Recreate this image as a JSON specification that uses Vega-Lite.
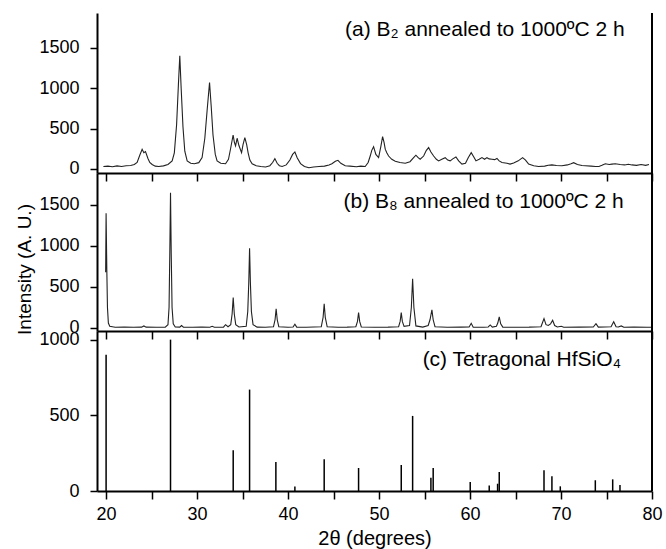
{
  "$schema": "https://vega.github.io/schema/vega-lite/v6.json",
  "padding": {"left": 15, "top": 12, "right": 5, "bottom": 2},
  "spacing": 0,
  "bounds": "flush",
  "config": {
    "font": "Liberation Sans",
    "view": {"stroke": null},
    "axis": {
      "grid": false, "domainColor": "black", "domainWidth": 2,
      "tickColor": "black", "tickWidth": 1.5, "labelColor": "black",
      "labelFontSize": 18, "labelFont": "Liberation Sans", "titleFont": "Liberation Sans",
      "titleFontWeight": "normal", "titleColor": "black", "titleFontSize": 19,
      "labelOverlap": false, "labelFlush": false
    }
  },
  "datasets": {
    "a": [
      {"t":19.7,"i":30},{"t":20.2,"i":35},{"t":20.7,"i":28},{"t":21.2,"i":38},{"t":21.7,"i":30},{"t":22.2,"i":40},{"t":22.7,"i":42},{"t":23.1,"i":55},{"t":23.41,"i":80},{"t":23.7,"i":170},{"t":23.96,"i":244},{"t":24.15,"i":200},{"t":24.33,"i":214},{"t":24.6,"i":130},{"t":24.8,"i":80},{"t":25.06,"i":55},{"t":25.4,"i":35},{"t":25.79,"i":30},{"t":26.3,"i":38},{"t":26.8,"i":55},{"t":27.26,"i":100},{"t":27.5,"i":200},{"t":27.75,"i":550},{"t":27.95,"i":1050},{"t":28.1,"i":1400},{"t":28.25,"i":1000},{"t":28.45,"i":520},{"t":28.65,"i":220},{"t":28.91,"i":100},{"t":29.3,"i":70},{"t":29.7,"i":65},{"t":30.19,"i":78},{"t":30.55,"i":140},{"t":30.85,"i":380},{"t":31.1,"i":720},{"t":31.37,"i":1070},{"t":31.55,"i":780},{"t":31.75,"i":420},{"t":32.0,"i":180},{"t":32.2,"i":100},{"t":32.6,"i":70},{"t":33.13,"i":65},{"t":33.45,"i":120},{"t":33.68,"i":250},{"t":33.96,"i":420},{"t":34.1,"i":330},{"t":34.23,"i":285},{"t":34.4,"i":380},{"t":34.6,"i":290},{"t":34.89,"i":202},{"t":35.05,"i":300},{"t":35.25,"i":388},{"t":35.45,"i":300},{"t":35.61,"i":200},{"t":35.8,"i":110},{"t":36.05,"i":65},{"t":36.5,"i":40},{"t":37.0,"i":30},{"t":37.53,"i":25},{"t":38.0,"i":40},{"t":38.3,"i":80},{"t":38.55,"i":128},{"t":38.8,"i":70},{"t":39.05,"i":40},{"t":39.35,"i":30},{"t":39.8,"i":50},{"t":40.2,"i":110},{"t":40.5,"i":180},{"t":40.75,"i":210},{"t":41.0,"i":140},{"t":41.37,"i":66},{"t":41.8,"i":30},{"t":42.29,"i":15},{"t":42.8,"i":25},{"t":43.4,"i":30},{"t":44.0,"i":35},{"t":44.5,"i":50},{"t":44.82,"i":65},{"t":45.2,"i":95},{"t":45.48,"i":107},{"t":45.8,"i":70},{"t":46.28,"i":40},{"t":46.8,"i":35},{"t":47.5,"i":28},{"t":48.0,"i":35},{"t":48.48,"i":30},{"t":48.8,"i":80},{"t":49.03,"i":160},{"t":49.2,"i":230},{"t":49.4,"i":276},{"t":49.65,"i":180},{"t":49.95,"i":140},{"t":50.2,"i":280},{"t":50.39,"i":400},{"t":50.55,"i":330},{"t":50.68,"i":245},{"t":50.85,"i":200},{"t":51.05,"i":160},{"t":51.4,"i":120},{"t":51.78,"i":95},{"t":52.3,"i":80},{"t":52.88,"i":70},{"t":53.4,"i":90},{"t":53.8,"i":140},{"t":54.05,"i":170},{"t":54.3,"i":140},{"t":54.52,"i":120},{"t":54.9,"i":160},{"t":55.2,"i":230},{"t":55.45,"i":265},{"t":55.7,"i":210},{"t":56.0,"i":160},{"t":56.3,"i":120},{"t":56.55,"i":100},{"t":56.9,"i":120},{"t":57.27,"i":140},{"t":57.55,"i":110},{"t":57.82,"i":100},{"t":58.1,"i":125},{"t":58.45,"i":148},{"t":58.75,"i":100},{"t":59.11,"i":60},{"t":59.5,"i":70},{"t":59.8,"i":140},{"t":60.13,"i":202},{"t":60.4,"i":150},{"t":60.65,"i":100},{"t":61.0,"i":120},{"t":61.31,"i":140},{"t":61.6,"i":120},{"t":61.86,"i":140},{"t":62.1,"i":125},{"t":62.41,"i":120},{"t":62.7,"i":115},{"t":62.96,"i":130},{"t":63.2,"i":100},{"t":63.51,"i":80},{"t":64.06,"i":70},{"t":64.4,"i":60},{"t":64.79,"i":75},{"t":65.3,"i":100},{"t":65.78,"i":140},{"t":66.1,"i":110},{"t":66.44,"i":60},{"t":67.0,"i":40},{"t":67.54,"i":30},{"t":68.2,"i":35},{"t":68.6,"i":45},{"t":69.0,"i":50},{"t":69.5,"i":42},{"t":70.1,"i":40},{"t":70.7,"i":50},{"t":71.1,"i":65},{"t":71.39,"i":78},{"t":71.8,"i":55},{"t":72.3,"i":42},{"t":72.67,"i":40},{"t":73.3,"i":35},{"t":73.8,"i":30},{"t":74.17,"i":30},{"t":74.5,"i":45},{"t":74.87,"i":65},{"t":75.3,"i":55},{"t":75.6,"i":60},{"t":75.97,"i":65},{"t":76.5,"i":55},{"t":77.0,"i":50},{"t":77.4,"i":58},{"t":77.8,"i":50},{"t":78.3,"i":45},{"t":78.8,"i":55},{"t":79.3,"i":45},{"t":79.67,"i":55}
    ],
    "b": [
      {"t":19.95,"i":680},{"t":20.0,"i":1400},{"t":20.08,"i":700},{"t":20.15,"i":250},{"t":20.25,"i":60},{"t":20.4,"i":20},{"t":21.0,"i":8},{"t":22.0,"i":10},{"t":23.0,"i":8},{"t":23.9,"i":10},{"t":24.15,"i":25},{"t":24.4,"i":10},{"t":25.5,"i":8},{"t":26.5,"i":10},{"t":26.8,"i":40},{"t":26.92,"i":250},{"t":27.0,"i":900},{"t":27.08,"i":1650},{"t":27.16,"i":900},{"t":27.25,"i":250},{"t":27.38,"i":50},{"t":27.6,"i":12},{"t":28.1,"i":10},{"t":28.29,"i":30},{"t":28.5,"i":10},{"t":29.5,"i":8},{"t":30.5,"i":10},{"t":31.4,"i":8},{"t":31.66,"i":20},{"t":31.9,"i":8},{"t":32.9,"i":10},{"t":33.13,"i":40},{"t":33.4,"i":15},{"t":33.7,"i":40},{"t":33.85,"i":170},{"t":33.97,"i":370},{"t":34.09,"i":170},{"t":34.25,"i":40},{"t":34.6,"i":12},{"t":35.4,"i":20},{"t":35.57,"i":200},{"t":35.68,"i":550},{"t":35.77,"i":972},{"t":35.86,"i":550},{"t":35.97,"i":200},{"t":36.15,"i":40},{"t":36.6,"i":10},{"t":37.5,"i":8},{"t":38.4,"i":15},{"t":38.57,"i":100},{"t":38.69,"i":235},{"t":38.81,"i":100},{"t":38.98,"i":15},{"t":40.0,"i":8},{"t":40.55,"i":12},{"t":40.75,"i":45},{"t":40.95,"i":10},{"t":42.0,"i":8},{"t":43.65,"i":15},{"t":43.85,"i":130},{"t":43.97,"i":296},{"t":44.09,"i":130},{"t":44.3,"i":15},{"t":45.5,"i":8},{"t":46.5,"i":10},{"t":47.45,"i":15},{"t":47.63,"i":80},{"t":47.75,"i":187},{"t":47.87,"i":80},{"t":48.05,"i":12},{"t":49.5,"i":8},{"t":51.0,"i":10},{"t":52.15,"i":15},{"t":52.32,"i":80},{"t":52.44,"i":187},{"t":52.56,"i":80},{"t":52.75,"i":20},{"t":53.35,"i":30},{"t":53.55,"i":250},{"t":53.69,"i":600},{"t":53.83,"i":250},{"t":54.05,"i":25},{"t":54.8,"i":10},{"t":55.4,"i":30},{"t":55.6,"i":100},{"t":55.81,"i":220},{"t":55.95,"i":100},{"t":56.15,"i":15},{"t":57.5,"i":8},{"t":59.0,"i":10},{"t":59.9,"i":12},{"t":60.13,"i":57},{"t":60.35,"i":10},{"t":61.5,"i":8},{"t":62.0,"i":12},{"t":62.22,"i":37},{"t":62.45,"i":10},{"t":62.9,"i":20},{"t":63.05,"i":60},{"t":63.21,"i":134},{"t":63.37,"i":50},{"t":63.6,"i":10},{"t":65.0,"i":8},{"t":66.5,"i":10},{"t":67.8,"i":15},{"t":67.95,"i":60},{"t":68.13,"i":114},{"t":68.35,"i":40},{"t":68.6,"i":30},{"t":68.85,"i":50},{"t":69.08,"i":94},{"t":69.3,"i":30},{"t":69.6,"i":12},{"t":70.03,"i":20},{"t":70.3,"i":8},{"t":72.0,"i":10},{"t":73.55,"i":12},{"t":73.84,"i":52},{"t":74.1,"i":10},{"t":75.5,"i":15},{"t":75.79,"i":77},{"t":76.05,"i":15},{"t":76.3,"i":12},{"t":76.62,"i":25},{"t":76.9,"i":8},{"t":78.0,"i":10},{"t":79.5,"i":8},{"t":80.0,"i":8}
    ],
    "c": [
      {"t":20.0,"i":900},{"t":27.08,"i":1000},{"t":33.97,"i":270},{"t":35.77,"i":670},{"t":38.66,"i":192},{"t":40.75,"i":30},{"t":43.97,"i":210},{"t":47.75,"i":152},{"t":52.44,"i":172},{"t":53.69,"i":496},{"t":55.7,"i":88},{"t":55.95,"i":152},{"t":60.02,"i":60},{"t":62.11,"i":37},{"t":63.03,"i":48},{"t":63.21,"i":125},{"t":68.13,"i":137},{"t":69.0,"i":97},{"t":69.92,"i":31},{"t":73.77,"i":71},{"t":75.68,"i":77},{"t":76.48,"i":40}
    ],
    "labels": [
      {"panel": "a", "label": "(a) B₂ annealed to 1000ºC 2 h", "t": 77.0, "i": 1645},
      {"panel": "b", "label": "(b) B₈ annealed to 1000ºC 2 h", "t": 76.9, "i": 1467},
      {"panel": "c", "label": "(c) Tetragonal HfSiO₄", "t": 76.6, "i": 826}
    ]
  },
  "vconcat": [
    {
      "width": 555, "height": 160,
      "layer": [
        {
          "data": {"name": "a"},
          "mark": {"type": "line", "color": "#222", "strokeWidth": 1.1},
          "encoding": {
            "x": {"field": "t", "type": "quantitative", "scale": {"domain": [19, 80], "nice": false, "zero": false},
                  "axis": {"values": [20,25,30,35,40,45,50,55,60,65,70,75,80], "labels": false, "title": null, "tickSize": 8}},
            "y": {"field": "i", "type": "quantitative", "scale": {"domain": [-50, 1930], "nice": false, "zero": false},
                  "axis": {"values": [0,250,500,750,1000,1250,1500,1750], "format": "d", "labelExpr": "datum.value % 500 === 0 ? datum.label : ''", "tickSize": 7, "labelPadding": 11, "title": null}}
          }
        },
        {"data": {"values": [{"v": 80}]}, "mark": {"type": "rule", "color": "black", "strokeWidth": 2}, "encoding": {"x": {"field": "v", "type": "quantitative"}}},
        {"data": {"name": "labels"}, "transform": [{"filter": "datum.panel === 'a'"}],
         "mark": {"type": "text", "align": "right", "baseline": "alphabetic", "fontSize": 21, "color": "black", "font": "Liberation Sans"},
         "encoding": {"x": {"field": "t", "type": "quantitative"}, "y": {"field": "i", "type": "quantitative"}, "text": {"field": "label"}}}
      ]
    },
    {
      "width": 555, "height": 158,
      "layer": [
        {
          "data": {"name": "b"},
          "mark": {"type": "line", "color": "#222", "strokeWidth": 1.1},
          "encoding": {
            "x": {"field": "t", "type": "quantitative", "scale": {"domain": [19, 80], "nice": false, "zero": false},
                  "axis": {"values": [20,25,30,35,40,45,50,55,60,65,70,75,80], "labels": false, "title": null, "tickSize": 8}},
            "y": {"field": "i", "type": "quantitative", "scale": {"domain": [-37, 1890], "nice": false, "zero": false},
                  "axis": {"values": [0,250,500,750,1000,1250,1500,1750], "format": "d", "labelExpr": "datum.value % 500 === 0 ? datum.label : ''", "tickSize": 7, "labelPadding": 11, "title": "Intensity (A. U.)", "titlePadding": 4, "titleY": 96}}
          }
        },
        {"data": {"values": [{"v": 80}]}, "mark": {"type": "rule", "color": "black", "strokeWidth": 2}, "encoding": {"x": {"field": "v", "type": "quantitative"}}},
        {"data": {"name": "labels"}, "transform": [{"filter": "datum.panel === 'b'"}],
         "mark": {"type": "text", "align": "right", "baseline": "alphabetic", "fontSize": 21, "color": "black", "font": "Liberation Sans"},
         "encoding": {"x": {"field": "t", "type": "quantitative"}, "y": {"field": "i", "type": "quantitative"}, "text": {"field": "label"}}}
      ]
    },
    {
      "width": 555, "height": 160,
      "layer": [
        {
          "data": {"name": "c"},
          "mark": {"type": "rule", "color": "black", "strokeWidth": 1.5},
          "encoding": {
            "x": {"field": "t", "type": "quantitative", "scale": {"domain": [19, 80], "nice": false, "zero": false},
                  "axis": {"values": [20,25,30,35,40,45,50,55,60,65,70,75,80], "format": "d", "labelExpr": "datum.value % 10 === 0 ? datum.label : ''", "tickSize": 8, "labelPadding": 6, "title": "2θ (degrees)", "titlePadding": 5, "titleFontSize": 20}},
            "y": {"field": "i", "type": "quantitative", "scale": {"domain": [0, 1057], "nice": false, "zero": false},
                  "axis": {"values": [0,250,500,750,1000], "format": "d", "labelExpr": "datum.value % 500 === 0 ? datum.label : ''", "tickSize": 7, "labelPadding": 11, "title": null}},
            "y2": {"datum": 0}
          }
        },
        {"data": {"values": [{"v": 80}]}, "mark": {"type": "rule", "color": "black", "strokeWidth": 2}, "encoding": {"x": {"field": "v", "type": "quantitative"}}},
        {"data": {"name": "labels"}, "transform": [{"filter": "datum.panel === 'c'"}],
         "mark": {"type": "text", "align": "right", "baseline": "alphabetic", "fontSize": 21, "color": "black", "font": "Liberation Sans"},
         "encoding": {"x": {"field": "t", "type": "quantitative"}, "y": {"field": "i", "type": "quantitative"}, "text": {"field": "label"}}}
      ]
    }
  ]
}
